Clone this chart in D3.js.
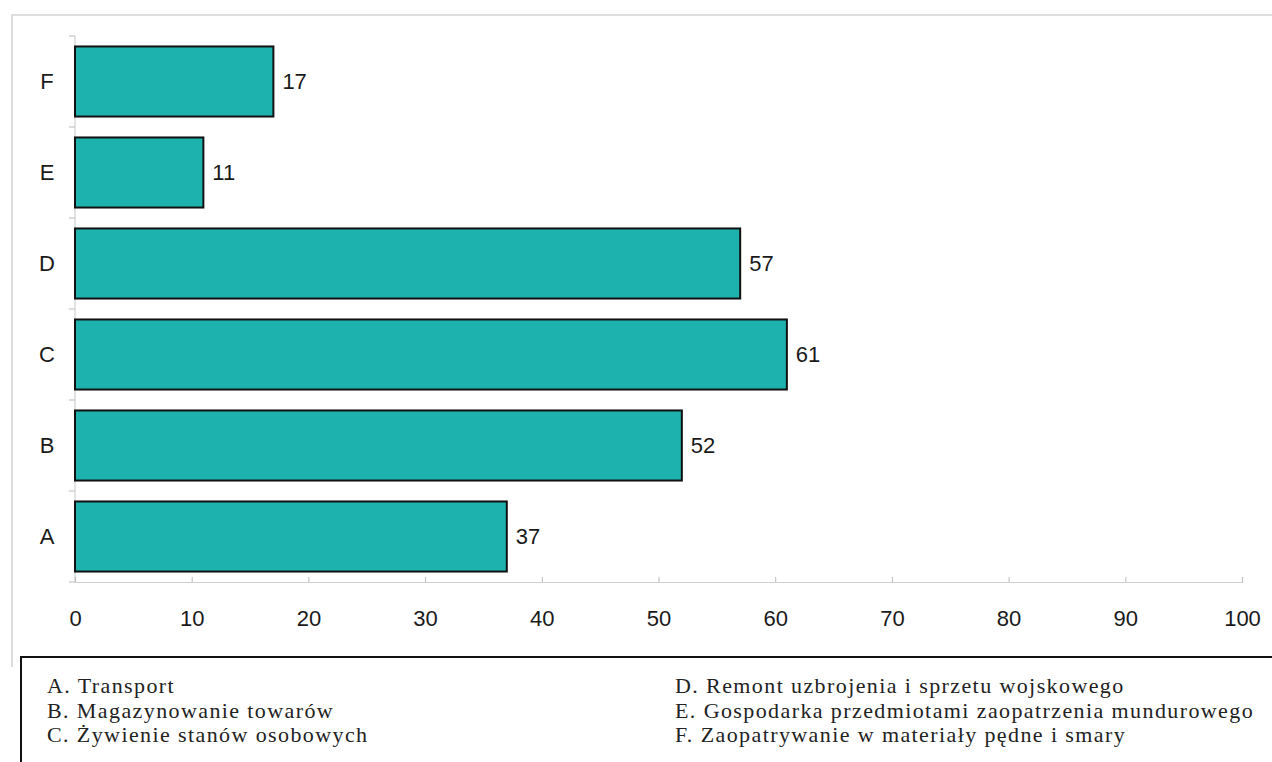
<!DOCTYPE html>
<html>
<head>
<meta charset="utf-8">
<script src="https://cdn.jsdelivr.net/npm/d3@7"></script>
<style>
  body { margin: 0; background: #fff; }
  svg { display: block; }
</style>
</head>
<body>
<div id="chart"></div>
<script>
const categories = ['A', 'B', 'C', 'D', 'E', 'F'];
const values = [37, 52, 61, 57, 11, 17];
const xTicks = [0, 10, 20, 30, 40, 50, 60, 70, 80, 90, 100];
const legendLeft = ['A. Transport', 'B. Magazynowanie towarów', 'C. Żywienie stanów osobowych'];
const legendRight = ['D. Remont uzbrojenia i sprzetu wojskowego', 'E. Gospodarka przedmiotami zaopatrzenia mundurowego', 'F. Zaopatrywanie w materiały pędne i smary'];

const W = 1272, H = 762;
const svg = d3.select('#chart').append('svg')
    .attr('width', W)
    .attr('height', H);

// outer chart frame (light gray)
svg.append('path')
    .attr('d', 'M12,667 V15 H1272')
    .attr('fill', 'none')
    .attr('stroke', '#d4d4d4')
    .attr('stroke-width', 1.5);

const x = d3.scaleLinear().domain([0, 100]).range([75, 1242]);
const y = d3.scaleBand().domain(categories.slice().reverse()).range([36, 582]).paddingInner(0.23).paddingOuter(0.115);

const step = y.step();

// y axis line + ticks at category boundaries
svg.append('line')
    .attr('x1', 75).attr('x2', 75)
    .attr('y1', 36).attr('y2', 582)
    .attr('stroke', '#cfcfcf').attr('stroke-width', 1.2);
const bounds = d3.range(categories.length + 1).map(i => 36 + i * step);
svg.selectAll('.ytick').data(bounds).enter().append('line')
    .attr('x1', 69).attr('x2', 75)
    .attr('y1', d => d).attr('y2', d => d)
    .attr('stroke', '#bbb');

const sans = 'Liberation Sans, Arial, sans-serif';

// x axis
const xAxis = svg.append('g')
    .attr('transform', 'translate(0,582)')
    .call(d3.axisBottom(x).tickValues(xTicks).tickSize(-5).tickPadding(28));
xAxis.select('.domain').attr('stroke', '#cfcfcf').attr('stroke-width', 1.2);
xAxis.selectAll('.tick line').attr('stroke', '#bbb');
xAxis.selectAll('text')
    .attr('font-family', sans)
    .attr('font-size', 22)
    .attr('fill', '#1a1a1a');

// bars
svg.selectAll('.bar').data(values).enter().append('rect')
    .attr('class', 'bar')
    .attr('x', x(0))
    .attr('y', (d, i) => y(categories[i]))
    .attr('width', d => x(d) - x(0))
    .attr('height', y.bandwidth())
    .attr('fill', '#1db2ae')
    .attr('stroke', '#111')
    .attr('stroke-width', 2);

// value labels
svg.selectAll('.val').data(values).enter().append('text')
    .attr('x', d => x(d) + 9)
    .attr('y', (d, i) => y(categories[i]) + y.bandwidth() / 2)
    .attr('dy', '0.35em')
    .attr('font-family', sans)
    .attr('font-size', 22)
    .attr('fill', '#1a1a1a')
    .text(d => d);

// category labels
svg.selectAll('.cat').data(categories).enter().append('text')
    .attr('x', 47)
    .attr('y', d => y(d) + y.bandwidth() / 2)
    .attr('dy', '0.35em')
    .attr('text-anchor', 'middle')
    .attr('font-family', sans)
    .attr('font-size', 22)
    .attr('fill', '#1a1a1a')
    .text(d => d);

// legend box
svg.append('path')
    .attr('d', 'M21,' + H + ' V657 H1272')
    .attr('fill', 'none')
    .attr('stroke', '#111')
    .attr('stroke-width', 2);

const legendFont = 'Liberation Serif, Times New Roman, serif';
svg.selectAll('.legL').data(legendLeft).enter().append('text')
    .attr('x', 47)
    .attr('y', (d, i) => 693 + i * 24.5)
    .attr('font-family', legendFont)
    .attr('font-size', 22)
    .attr('letter-spacing', 1.4)
    .attr('fill', '#222')
    .text(d => d);
svg.selectAll('.legR').data(legendRight).enter().append('text')
    .attr('x', 675)
    .attr('y', (d, i) => 693 + i * 24.5)
    .attr('font-family', legendFont)
    .attr('font-size', 22)
    .attr('letter-spacing', 1.4)
    .attr('fill', '#222')
    .text(d => d);
</script>
</body>
</html>
